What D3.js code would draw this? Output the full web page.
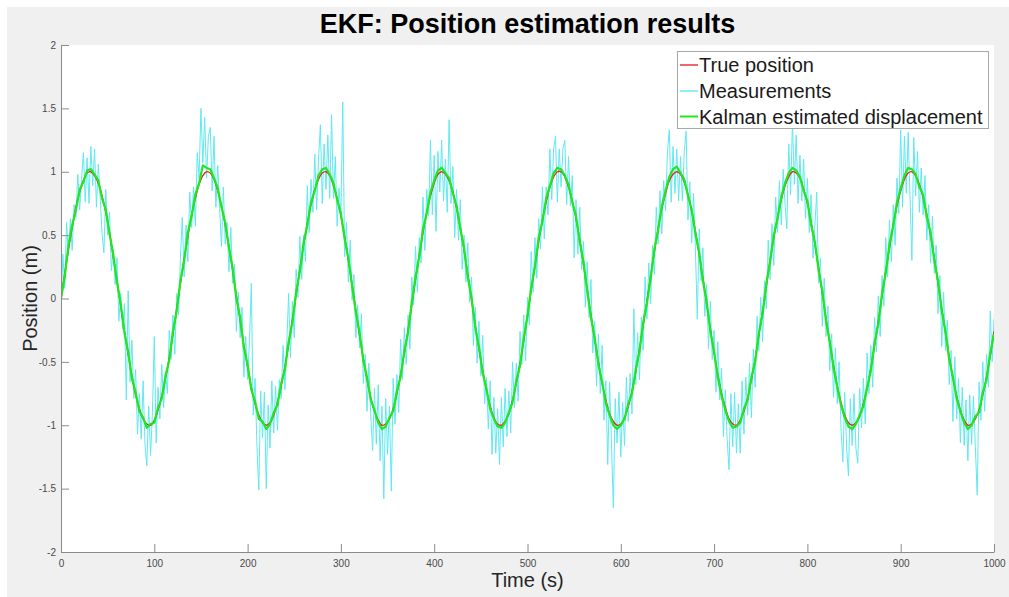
<!DOCTYPE html>
<html>
<head>
<meta charset="utf-8">
<script src="https://cdn.jsdelivr.net/npm/d3@7"></script>
<style>
  html, body { margin: 0; padding: 0; background: #ffffff; }
  svg { display: block; font-family: "Liberation Sans", Arial, Helvetica, sans-serif; }
</style>
</head>
<body>
<svg id="chart" width="1009" height="597"></svg>
<script>
// ---- text ----
const titleText = "EKF: Position estimation results";
const xLabelText = "Time (s)";
const yLabelText = "Position (m)";
const seriesNames = ["True position", "Measurements", "Kalman estimated displacement"];

// ---- ticks ----
const xTicks = [0, 100, 200, 300, 400, 500, 600, 700, 800, 900, 1000];
const yTicks = [-2, -1.5, -1, -0.5, 0, 0.5, 1, 1.5, 2];

// ---- sampling interval of each series (s) ----
const trueStep = 4;
const measStep = 2;
const kalmanStep = 4;

// ---- true position (m), every 4 s from 0 to 1000 ----
const truePosition = [
  0.00,0.20,0.39,0.56,0.72,0.84,0.93,0.99,1.00,0.97,0.91,0.81,0.68,0.52,0.33,0.14,-0.06,-0.26,-0.44,-0.61,-0.76,-0.87,-0.95,-0.99,-1.00,-0.96,-0.88,-0.77,-0.63,-0.47,-0.28,-0.08,
  0.12,0.31,0.49,0.66,0.79,0.90,0.97,1.00,0.99,0.94,0.85,0.73,0.58,0.41,0.22,0.02,-0.17,-0.37,-0.54,-0.70,-0.83,-0.92,-0.98,-1.00,-0.98,-0.92,-0.82,-0.69,-0.54,-0.36,-0.17,
  0.03,0.23,0.42,0.59,0.74,0.86,0.94,0.99,1.00,0.97,0.89,0.79,0.65,0.49,0.30,0.11,-0.09,-0.29,-0.47,-0.64,-0.78,-0.89,-0.96,-1.00,-0.99,-0.95,-0.87,-0.75,-0.60,-0.43,-0.25,-0.05,
  0.15,0.34,0.52,0.68,0.81,0.91,0.98,1.00,0.98,0.93,0.84,0.71,0.56,0.38,0.19,-0.01,-0.21,-0.40,-0.57,-0.72,-0.85,-0.94,-0.99,-1.00,-0.97,-0.91,-0.80,-0.67,-0.51,-0.33,-0.13,
  0.07,0.26,0.45,0.62,0.76,0.88,0.96,1.00,1.00,0.96,0.88,0.77,0.63,0.46,0.27,0.07,-0.13,-0.32,-0.50,-0.67,-0.80,-0.91,-0.97,-1.00,-0.99,-0.94,-0.85,-0.73,-0.58,-0.40,-0.21,-0.02,
  0.18,0.37,0.55,0.71,0.83,0.93,0.98,1.00,0.98,0.92,0.82,0.69,0.53,0.35,0.16,-0.04,-0.24,-0.43,-0.60,-0.75,-0.86,-0.95,-0.99,-1.00,-0.96,-0.89,-0.78,-0.64,-0.48,-0.29,-0.10,
  0.10,0.30,0.48,0.64,0.78,0.89,0.96,1.00,0.99,0.95,0.86,0.75,0.60,0.43,0.24,0.04,-0.16,-0.35,-0.53,-0.69,-0.82,-0.92,-0.98,-1.00,-0.98,-0.93,-0.83,-0.71,-0.55,-0.37,-0.18,
  0.02,0.22,0.40,0.58,0.73,0.85,0.94,0.99,1.00,0.97,0.90,0.80,0.66,0.50,0.32,0.12,-0.08,-0.27,-0.46,-0.63,-0.77,-0.88,-0.96,-1.00,-0.99,-0.95,-0.88,-0.76,-0.62,-0.45,-0.26
];

// ---- noisy position measurements (m), every 2 s from 0 to 1000 ----
const measurements = [
  -0.08,0.35,0.08,0.60,0.34,0.63,0.38,0.74,0.64,0.98,0.70,0.94,1.15,0.76,1.11,0.75,1.20,0.89,1.18,0.72,1.06,0.80,0.51,0.36,0.86,
  0.50,0.68,0.22,0.39,0.11,0.32,-0.18,0.04,-0.24,-0.04,-0.80,0.06,-0.66,-0.33,-0.79,-0.56,-1.07,-0.75,-1.11,-0.65,-1.15,-1.32,-0.85,-1.24,-0.90,
  -0.30,-1.14,-0.70,-0.95,-0.52,-0.86,-0.58,-0.75,-0.25,-0.48,-0.13,-0.44,0.04,-0.13,0.32,0.64,0.17,0.58,0.29,0.84,0.56,0.88,0.57,1.15,0.95,
  1.50,1.07,1.43,0.95,1.28,1.35,0.85,1.28,0.72,1.05,0.71,0.41,0.88,0.43,0.60,0.21,0.56,0.12,0.27,-0.26,0.05,-0.31,-0.07,-0.62,-0.30,
  -0.64,-0.34,0.12,-0.92,-0.63,-1.16,-1.51,-0.73,-1.10,-0.74,-1.50,-0.84,-1.18,-0.65,-1.06,-0.69,-1.04,-0.64,-0.79,-0.37,-0.72,-0.35,0.04,-0.47,-0.02,
  -0.31,0.23,0.01,0.49,0.15,0.50,0.29,0.89,0.52,0.94,0.68,1.14,0.70,1.10,1.37,0.75,1.22,0.86,1.29,0.79,1.45,0.79,1.12,0.57,0.87,
  0.67,1.55,0.33,0.60,0.13,0.46,-0.01,0.19,-0.31,-0.05,-0.39,-0.12,-0.67,-0.44,-0.89,-0.51,-0.92,-1.20,-0.71,-1.15,-0.68,-1.28,-0.85,-1.58,-0.79,
  -1.23,-0.85,-1.52,-0.63,-0.99,-0.60,-0.90,-0.32,-0.64,-0.23,-0.52,-0.13,-0.40,0.17,-0.05,0.41,0.05,0.48,0.28,0.80,0.38,0.86,0.65,1.25,0.66,
  1.13,0.53,1.16,0.84,1.25,0.77,1.10,0.68,1.41,0.75,1.04,0.48,0.86,0.46,0.78,0.23,0.50,0.13,0.44,-0.03,0.17,-0.37,-0.07,-0.51,-0.18,
  -0.61,-0.29,-0.83,-0.62,-1.03,-0.65,-1.23,-0.78,-1.22,-0.87,-1.31,-0.78,-1.17,-0.71,-1.09,-0.73,-1.06,-0.50,-0.86,-0.51,-0.81,-0.26,-0.52,-0.13,-0.49,
  0.01,-0.21,0.37,0.05,0.48,0.16,0.63,0.39,0.88,0.47,0.88,0.66,1.18,0.78,1.18,1.28,0.76,1.18,0.88,1.18,1.25,0.74,1.12,0.73,0.97,
  0.32,0.78,0.35,0.72,0.23,0.45,-0.07,0.29,-0.15,0.15,-0.43,-0.18,-0.69,-0.28,-0.75,-0.37,-0.96,-0.65,-1.31,-0.66,-1.14,-1.65,-0.79,-1.14,-0.74,
  -1.25,-0.82,-1.16,-0.62,-0.97,-0.59,-0.91,-0.08,-0.68,-0.27,-0.64,-0.15,-0.41,0.17,-0.16,0.28,-0.04,0.42,0.19,0.72,0.43,0.85,0.51,0.93,0.69,
  1.16,1.33,0.76,1.20,0.83,1.18,0.77,1.12,0.77,1.16,1.32,0.62,0.92,0.44,0.83,0.38,-0.16,0.55,0.14,0.40,-0.14,0.11,-0.40,-0.02,-0.48,
  -0.25,-0.74,-0.34,-0.80,-0.55,-1.09,-0.72,-1.11,-1.35,-0.75,-1.17,-0.74,-1.22,-0.83,-1.22,-0.65,-1.07,-0.62,-0.92,-0.51,-0.94,-0.40,-0.70,-0.14,-0.41,
  0.01,-0.34,0.14,-0.08,0.46,0.15,0.59,0.26,0.80,0.52,0.93,0.58,1.02,0.75,0.55,1.22,0.82,1.40,0.90,1.29,0.75,1.13,0.77,1.10,0.63,
  0.95,0.52,0.82,0.32,0.57,0.84,0.12,0.32,-0.22,0.16,-0.30,-0.06,-0.57,-0.28,-0.78,-0.39,-0.83,-0.50,-1.02,-1.29,-0.74,-1.17,-1.40,-0.79,-1.16,
  -0.75,-1.18,-1.30,-0.71,-1.02,-0.63,-0.99,-0.43,-0.75,-0.37,-0.70,-0.15,-0.42,0.02,-0.30,0.18,-0.06,0.48,0.17,0.62,0.29,0.74,0.42,0.95,0.67,
  1.33,0.72,1.28,0.83,1.31,0.80,0.30,1.27,0.81,1.16,0.68,1.03,0.66,0.97,0.46,0.74,0.28,0.65,0.20,0.42,-0.12,0.18,-0.38,0.05,-0.41,
  -0.17,-0.68,-0.41,-0.97,-0.46,-0.95,-0.63,-1.14,-0.70,-1.16,-0.80,-1.28,-0.76,-1.15,-0.77,-1.17,-1.55,-0.66,-0.96,-0.50,-0.89,-0.44,-0.70,-0.10,-0.50,-0.16
];

// ---- Kalman filter estimate (m), every 4 s from 0 to 1000 ----
const kalmanEstimate = [
  0.00,0.17,0.42,0.58,0.70,0.86,0.92,1.01,1.02,0.98,0.93,0.79,0.70,0.51,0.35,0.13,-0.04,-0.27,-0.42,-0.63,-0.74,-0.89,-0.94,-1.02,-0.99,-0.98,-0.86,-0.79,-0.61,-0.49,-0.26,-0.10,
  0.14,0.30,0.52,0.65,0.82,0.91,1.05,1.03,1.02,0.95,0.87,0.72,0.60,0.40,0.24,0.00,-0.15,-0.39,-0.52,-0.72,-0.81,-0.95,-0.97,-1.03,-0.99,-0.90,-0.84,-0.67,-0.56,-0.34,-0.19,
  0.05,0.21,0.44,0.58,0.76,0.85,0.97,1.02,1.03,0.98,0.91,0.78,0.67,0.47,0.32,0.10,-0.11,-0.27,-0.49,-0.62,-0.80,-0.88,-0.98,-1.03,-1.01,-0.94,-0.89,-0.73,-0.62,-0.41,-0.27,-0.03,
  0.17,0.33,0.55,0.67,0.84,0.93,1.01,1.03,0.99,0.95,0.83,0.73,0.55,0.40,0.17,0.01,-0.23,-0.38,-0.59,-0.71,-0.87,-0.95,-1.01,-1.02,-0.98,-0.90,-0.82,-0.65,-0.53,-0.31,-0.14,
  0.09,0.25,0.48,0.61,0.79,0.89,0.99,1.03,1.02,0.97,0.90,0.76,0.65,0.45,0.29,0.06,-0.15,-0.31,-0.52,-0.66,-0.83,-0.92,-1.00,-1.03,-1.00,-0.95,-0.83,-0.75,-0.56,-0.42,-0.19,-0.04,
  0.16,0.39,0.54,0.73,0.85,0.96,1.02,1.04,0.99,0.94,0.81,0.70,0.51,0.36,0.14,-0.02,-0.26,-0.42,-0.62,-0.77,-0.88,-0.97,-1.02,-1.01,-0.98,-0.87,-0.80,-0.62,-0.50,-0.27,-0.12,
  0.12,0.29,0.50,0.63,0.80,0.91,0.99,1.03,1.01,0.96,0.85,0.77,0.58,0.45,0.22,0.06,-0.18,-0.34,-0.55,-0.70,-0.84,-0.94,-1.01,-1.03,-0.99,-0.92,-0.85,-0.70,-0.57,-0.35,-0.20,
  0.04,0.20,0.43,0.57,0.76,0.87,0.97,1.03,1.02,0.98,0.88,0.82,0.64,0.52,0.30,0.14,-0.10,-0.26,-0.48,-0.62,-0.79,-0.89,-0.98,-1.03,-1.00,-0.93,-0.90,-0.74,-0.64,-0.43,-0.28
];

// ---- layout ----
const W = 1009, H = 597;
const box = { left: 61, right: 994, top: 45, bottom: 552 };
const colors = { truth: "#e3262b", meas: "#5fe9f2", kalman: "#1fe81f" };

const svg = d3.select("#chart");

// figure background
svg.append("rect")
  .attr("x", 7).attr("y", 7)
  .attr("width", W - 7).attr("height", H - 7)
  .attr("fill", "#f0f0f0");

const x = d3.scaleLinear().domain([0, 1000]).range([box.left, box.right]);
const y = d3.scaleLinear().domain([-2, 2]).range([box.bottom, box.top]);

// axes area
svg.append("rect")
  .attr("x", box.left).attr("y", box.top)
  .attr("width", box.right - box.left).attr("height", box.bottom - box.top)
  .attr("fill", "#ffffff");

svg.append("clipPath").attr("id", "plotClip")
  .append("rect")
  .attr("x", box.left).attr("y", box.top)
  .attr("width", box.right - box.left).attr("height", box.bottom - box.top);

const plot = svg.append("g").attr("clip-path", "url(#plotClip)");

const toPoints = (vals, step) => vals.map((v, i) => [i * step, v]);

const straight = d3.line().x(d => x(d[0])).y(d => y(d[1]));
const smooth = d3.line().x(d => x(d[0])).y(d => y(d[1])).curve(d3.curveCatmullRom.alpha(0.5));

plot.append("path")
  .datum(toPoints(measurements, measStep))
  .attr("d", straight)
  .attr("fill", "none")
  .attr("stroke", colors.meas)
  .attr("stroke-width", 1)
  .attr("stroke-linejoin", "round");

plot.append("path")
  .datum(toPoints(truePosition, trueStep))
  .attr("d", smooth)
  .attr("fill", "none")
  .attr("stroke", colors.truth)
  .attr("stroke-width", 1.4);

plot.append("path")
  .datum(toPoints(kalmanEstimate, kalmanStep))
  .attr("d", straight)
  .attr("fill", "none")
  .attr("stroke", colors.kalman)
  .attr("stroke-width", 2.2)
  .attr("stroke-linejoin", "round");

// axes: ticks point inward, MATLAB style
const axisColor = "#8a8a8a";
const labelColor = "#4a4a4a";

const xAxis = svg.append("g")
  .attr("transform", `translate(0,${box.bottom})`)
  .call(d3.axisBottom(x).tickValues(xTicks).tickFormat(d => String(d))
    .tickSizeInner(-8).tickSizeOuter(0).tickPadding(8));

const yAxis = svg.append("g")
  .attr("transform", `translate(${box.left},0)`)
  .call(d3.axisLeft(y).tickValues(yTicks).tickFormat(d => String(d))
    .tickSizeInner(-8).tickSizeOuter(0).tickPadding(5));

[xAxis, yAxis].forEach(g => {
  g.select(".domain").attr("stroke", axisColor).attr("stroke-width", 1);
  g.selectAll(".tick line").attr("stroke", axisColor).attr("stroke-width", 1);
  g.selectAll(".tick text")
    .attr("fill", labelColor)
    .style("font-size", "10px")
    .style("font-family", "\"Liberation Sans\", Arial, sans-serif");
});

// title and axis labels
svg.append("text")
  .attr("x", (box.left + box.right) / 2).attr("y", 33)
  .attr("text-anchor", "middle")
  .style("font-size", "27px").style("font-weight", "bold")
  .attr("fill", "#000000")
  .text(titleText);

svg.append("text")
  .attr("x", (box.left + box.right) / 2).attr("y", 587)
  .attr("text-anchor", "middle")
  .style("font-size", "20px")
  .attr("fill", "#262626")
  .text(xLabelText);

svg.append("text")
  .attr("transform", `translate(30,${(box.top + box.bottom) / 2}) rotate(-90)`)
  .attr("text-anchor", "middle")
  .attr("dominant-baseline", "central")
  .style("font-size", "20px")
  .attr("fill", "#262626")
  .text(yLabelText);

// legend
const legend = svg.append("g");
legend.append("rect")
  .attr("x", 677.5).attr("y", 51.5)
  .attr("width", 311).attr("height", 77)
  .attr("fill", "#ffffff")
  .attr("stroke", "#a8a8a8")
  .attr("stroke-width", 1);

const legendColors = [colors.truth, colors.meas, colors.kalman];
const legendRows = [65, 91, 116.5];
seriesNames.forEach((name, i) => {
  legend.append("line")
    .attr("x1", 680).attr("x2", 698)
    .attr("y1", legendRows[i]).attr("y2", legendRows[i])
    .attr("stroke", legendColors[i])
    .attr("stroke-width", i === 2 ? 2 : 1.4);
  legend.append("text")
    .attr("x", 699).attr("y", legendRows[i])
    .attr("dominant-baseline", "central")
    .style("font-size", "20px")
    .attr("fill", "#1a1a1a")
    .text(name);
});
</script>
</body>
</html>
